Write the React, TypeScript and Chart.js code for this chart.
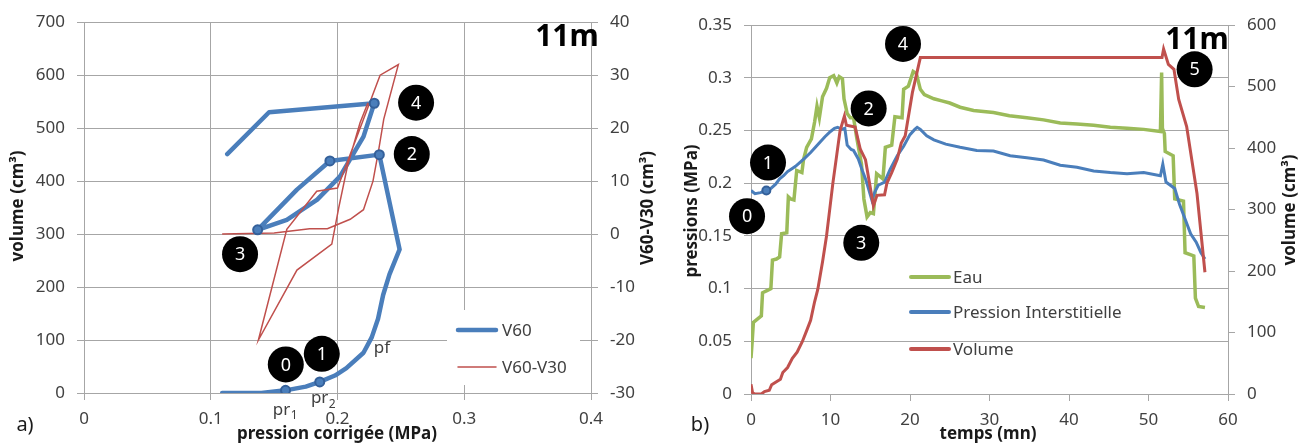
import React, { useEffect, useRef } from 'react';
import { Chart, registerables } from 'chart.js';

Chart.register(...registerables);

const FONT = "'Noto Sans', 'DejaVu Sans', sans-serif";
const BLUE = '#4a7ebb';
const RED = '#c0504d';
const GREEN = '#9bbb59';
const MARK = '#34609a';
const GRID = '#a6a6a6';
const TXT = '#404040';
const TITLE = '#1a1a1a';

// ---------------- panel a) ----------------
const xTicksA = [0, 0.1, 0.2, 0.3, 0.4];
const yTicksA = [0, 100, 200, 300, 400, 500, 600, 700];
const y2TicksA = [-30, -20, -10, 0, 10, 20, 30, 40];

const v60Pression = [0.109, 0.14, 0.159, 0.175, 0.186, 0.198, 0.207, 0.2205, 0.227, 0.232, 0.236, 0.241, 0.249, 0.233, 0.194, 0.168, 0.137, 0.16, 0.184, 0.202, 0.2205, 0.229, 0.146, 0.113];
const v60Volume = [0, 0, 5, 12, 21, 33, 47, 76, 105, 140, 185, 224, 271, 450, 438, 384, 308, 327, 365, 409, 484, 547, 530, 451];

const markPressionA = [0.159, 0.186, 0.233, 0.194, 0.137, 0.229];
const markVolumeA = [5, 21, 450, 438, 308, 547];

const diffPression = [0.109, 0.15, 0.178, 0.192, 0.21, 0.2205, 0.228, 0.2323, 0.2365, 0.248, 0.2336, 0.2, 0.1836, 0.16, 0.1376, 0.168, 0.1955, 0.201, 0.208, 0.2178, 0.224];
const diffV60V30 = [0, 0.2, 1, 1, 2.8, 4.6, 10, 15.6, 21.7, 32, 30, 8.7, 8.1, 0.9, -20, -6.8, -1.9, 5, 13, 21, 24.8];

// ---------------- panel b) ----------------
const xTicksB = [0, 10, 20, 30, 40, 50, 60];
const yTicksB = [0, 0.05, 0.1, 0.15, 0.2, 0.25, 0.3, 0.35];
const y2TicksB = [0, 100, 200, 300, 400, 500, 600];

const eauTemps = [0, 0.15, 0.3, 0.8, 1.3, 1.45, 2.0, 2.5, 2.7, 3.2, 3.6, 3.85, 4.5, 4.7, 5.0, 5.4, 5.75, 6.4, 6.6, 7.0, 7.6, 8.0, 8.3, 8.6, 9.0, 9.5, 9.9, 10.4, 10.8, 11.1, 11.5, 11.7, 12.1, 12.5, 12.9, 13.3, 13.9, 14.2, 14.6, 15.0, 15.4, 15.8, 16.6, 16.9, 17.7, 18.1, 19.0, 19.2, 19.8, 20.4, 20.8, 21.3, 21.8, 23, 24, 25, 26.3, 28, 30.5, 32.5, 34.7, 36.8, 38.9, 41, 43.1, 45.2, 47.3, 49.4, 51.5, 51.65, 51.75, 52.0, 52.1, 53.1, 53.3, 54.4, 54.6, 55.7, 55.9, 56.3, 57.1];
const eauPression = [0.034, 0.05, 0.068, 0.071, 0.074, 0.096, 0.098, 0.1, 0.127, 0.128, 0.13, 0.152, 0.153, 0.187, 0.185, 0.184, 0.212, 0.21, 0.222, 0.234, 0.242, 0.258, 0.273, 0.262, 0.282, 0.29, 0.3, 0.302, 0.295, 0.301, 0.299, 0.28, 0.266, 0.262, 0.262, 0.243, 0.218, 0.185, 0.168, 0.172, 0.171, 0.209, 0.204, 0.234, 0.236, 0.263, 0.262, 0.289, 0.292, 0.306, 0.304, 0.289, 0.284, 0.28, 0.278, 0.276, 0.272, 0.269, 0.267, 0.264, 0.262, 0.26, 0.257, 0.256, 0.255, 0.253, 0.252, 0.251, 0.249, 0.305, 0.252, 0.247, 0.23, 0.226, 0.185, 0.183, 0.134, 0.131, 0.091, 0.083, 0.082];

const piTemps = [0, 0.5, 1.2, 1.9, 2.5, 3.1, 3.6, 4.1, 4.6, 5.0, 5.6, 6.2, 6.8, 7.5, 8.1, 8.7, 9.3, 10.0, 10.5, 10.9, 11.4, 11.8, 12.1, 12.6, 12.9, 13.5, 14.0, 14.5, 15.2, 15.6, 16.0, 16.8, 17.5, 18.4, 19.2, 20.0, 20.6, 20.9, 21.3, 22.1, 23, 24.5, 26.3, 28.4, 30.5, 32.6, 34.7, 36.8, 38.9, 41, 43.1, 45.2, 47.3, 49.4, 51.5, 51.8, 52.2, 53.3, 53.9, 54.6, 55.3, 56.0, 56.6, 57.1];
const piPression = [0.193, 0.19, 0.191, 0.193, 0.195, 0.199, 0.204, 0.207, 0.211, 0.213, 0.216, 0.22, 0.224, 0.229, 0.234, 0.239, 0.244, 0.249, 0.252, 0.253, 0.251, 0.252, 0.236, 0.232, 0.231, 0.223, 0.212, 0.202, 0.184, 0.192, 0.198, 0.201, 0.213, 0.226, 0.235, 0.246, 0.251, 0.253, 0.251, 0.245, 0.241, 0.237, 0.234, 0.231, 0.2305, 0.226, 0.224, 0.222, 0.217, 0.215, 0.2115, 0.21, 0.209, 0.21, 0.207, 0.218, 0.201, 0.195, 0.18, 0.166, 0.152, 0.144, 0.134, 0.128];

const volTemps = [0, 0.2, 0.5, 1.3, 1.7, 2.3, 2.6, 3.2, 3.7, 4.0, 4.6, 5.2, 5.8, 6.45, 7.0, 7.5, 8.0, 8.4, 9.0, 9.5, 10.3, 10.8, 11.2, 11.75, 12.0, 13.1, 13.75, 14.4, 15.4, 15.85, 16.8, 17.1, 17.7, 18.4, 18.9, 19.4, 20.3, 21.3, 51.7, 51.9, 52.5, 53.2, 53.8, 54.8, 56.1, 57.1];
const volVolume = [16, 2, 0, 0, 4, 6, 15, 20, 24, 35, 43, 58, 68, 85, 103, 120, 150, 170, 215, 257, 343, 390, 428, 452, 437, 434, 398, 381, 306, 323, 324, 343, 360, 382, 408, 420, 490, 547, 547, 561, 536, 528, 479, 435, 326, 198];

const markTempsB = [1.93];
const markPressionB = [0.193];

// ---------------------------------------------
const pts = (xs: number[], ys: number[]) => xs.map((x, i) => ({ x, y: ys[i] }));

type Cfg = {
  circles: [string, number, number][];
  texts: { t: string; sub?: string; x: number; y: number; font: string; color?: string }[];
  box?: [number, number, number, number];
  legend: { label: string; color: string; width: number; x0: number; x1: number; tx: number; y: number }[];
  titles: { t: string; x: number; y: number; rot?: number; font: string }[];
};

function makeAnnot(cfg: Cfg) {
  return {
    id: 'annot',
    beforeDatasetsDraw(chart: any) {
      if (!cfg.box) return;
      const c = chart.ctx;
      c.save();
      c.fillStyle = '#fff';
      c.fillRect(cfg.box[0], cfg.box[1], cfg.box[2], cfg.box[3]);
      c.restore();
    },
    afterDraw(chart: any) {
      const c = chart.ctx;
      const sx = chart.scales.x;
      const sy = chart.scales.y;
      c.save();
      c.textAlign = 'center';
      c.textBaseline = 'middle';
      cfg.circles.forEach(([lab, x, y]) => {
        const px = sx.getPixelForValue(x);
        const py = sy.getPixelForValue(y);
        c.beginPath();
        c.arc(px, py, 18, 0, Math.PI * 2);
        c.fillStyle = '#000';
        c.fill();
        c.fillStyle = '#fff';
        c.font = `18px ${FONT}`;
        c.fillText(lab, px, py + 1);
      });
      cfg.texts.forEach((t) => {
        const px = sx.getPixelForValue(t.x);
        const py = sy.getPixelForValue(t.y);
        c.fillStyle = t.color || TXT;
        c.font = t.font;
        if (t.sub) {
          const w1 = c.measureText(t.t).width;
          c.font = `12px ${FONT}`;
          const w2 = c.measureText(t.sub).width;
          const left = px - (w1 + w2) / 2;
          c.textAlign = 'left';
          c.font = t.font;
          c.fillText(t.t, left, py);
          c.font = `12px ${FONT}`;
          c.fillText(t.sub, left + w1 + 0.5, py + 6);
          c.textAlign = 'center';
        } else {
          c.fillText(t.t, px, py);
        }
      });
      cfg.legend.forEach((it) => {
        c.strokeStyle = it.color;
        c.lineWidth = it.width;
        c.lineCap = 'round';
        c.beginPath();
        c.moveTo(it.x0, it.y);
        c.lineTo(it.x1, it.y);
        c.stroke();
        c.fillStyle = TXT;
        c.font = `17px ${FONT}`;
        c.textAlign = 'left';
        c.fillText(it.label, it.tx, it.y + 1);
        c.textAlign = 'center';
      });
      cfg.titles.forEach((t) => {
        c.save();
        c.translate(t.x, t.y);
        if (t.rot) c.rotate(t.rot);
        c.font = t.font;
        c.fillStyle = TITLE;
        c.fillText(t.t, 0, 0);
        c.restore();
      });
      c.restore();
    },
  };
}

const tickFont = { family: FONT, size: 17 };
const setTicks = (arr: number[]) => (s: any) => {
  s.ticks = arr.map((v) => ({ value: v }));
};

function axis(arr: number[], extra: any) {
  return {
    type: 'linear',
    min: arr[0],
    max: arr[arr.length - 1],
    afterBuildTicks: setTicks(arr),
    ticks: { font: tickFont, color: TXT, padding: 12, callback: (v: any) => String(v) },
    border: { display: true, color: GRID, width: 1 },
    ...extra,
  };
}

const TFONT = `bold 17px ${FONT}`;

function ChartA() {
  const ref = useRef<HTMLCanvasElement>(null);
  useEffect(() => {
    const annot = makeAnnot({
      circles: [
        ['0', 0.1592, 54],
        ['1', 0.1876, 74],
        ['2', 0.2586, 451],
        ['3', 0.1231, 262],
        ['4', 0.262, 548],
      ],
      texts: [
        { t: 'pf', x: 0.235, y: 84, font: `17px ${FONT}` },
        { t: 'pr', sub: '1', x: 0.1586, y: -32, font: `17px ${FONT}` },
        { t: 'pr', sub: '2', x: 0.1886, y: -10, font: `17px ${FONT}` },
        { t: '11m', x: 0.381, y: 672, font: `bold 30px ${FONT}`, color: '#000' },
      ],
      box: [447, 310, 133, 75],
      legend: [
        { label: 'V60', color: BLUE, width: 4.5, x0: 458, x1: 496, tx: 502, y: 330 },
        { label: 'V60-V30', color: RED, width: 1.5, x0: 458, x1: 496, tx: 502, y: 367 },
      ],
      titles: [
        { t: 'volume (cm³)', x: 18, y: 206, rot: -Math.PI / 2, font: TFONT },
        { t: 'V60-V30 (cm³)', x: 648, y: 208, rot: -Math.PI / 2, font: TFONT },
        { t: 'pression corrigée (MPa)', x: 337, y: 434, font: TFONT },
        { t: 'a)', x: 25, y: 425, font: `20px ${FONT}` },
      ],
    });
    const chart = new Chart(ref.current!, {
      type: 'scatter',
      data: {
        datasets: [
          {
            label: 'V60-V30',
            data: pts(diffPression, diffV60V30),
            yAxisID: 'y2',
            showLine: true,
            borderColor: RED,
            borderWidth: 1.5,
            pointRadius: 0,
            order: 1,
          },
          {
            label: 'points',
            data: pts(markPressionA, markVolumeA),
            yAxisID: 'y',
            showLine: false,
            pointRadius: 4.5,
            pointBackgroundColor: BLUE,
            pointBorderColor: MARK,
            pointBorderWidth: 2,
            order: 0,
          },
          {
            label: 'V60',
            data: pts(v60Pression, v60Volume),
            yAxisID: 'y',
            showLine: true,
            borderColor: BLUE,
            borderWidth: 4.5,
            borderJoinStyle: 'round',
            borderCapStyle: 'round',
            pointRadius: 0,
            order: 2,
          },
        ] as any,
      },
      options: {
        animation: false,
        responsive: false,
        layout: { padding: { top: 20, left: 0, right: 0, bottom: 0 } },
        plugins: { legend: { display: false }, tooltip: { enabled: false } },
        scales: {
          x: axis(xTicksA, {
            position: 'bottom',
            ticks: { font: tickFont, color: TXT, padding: 9, callback: (v: any) => String(v) },
            grid: { color: GRID, lineWidth: 1, tickLength: 7, tickColor: GRID, drawTicks: true },
            afterFit: (s: any) => {
              s.height = 50;
            },
          }),
          y: axis(yTicksA, {
            position: 'left',
            grid: { color: GRID, lineWidth: 1, tickLength: 7, tickColor: GRID },
            afterFit: (s: any) => {
              s.width = 84;
            },
          }),
          y2: axis(y2TicksA, {
            position: 'right',
            grid: { drawOnChartArea: false, color: GRID, tickLength: 7, tickColor: GRID },
            afterFit: (s: any) => {
              s.width = 69;
            },
          }),
        } as any,
      },
      plugins: [annot as any],
    });
    return () => chart.destroy();
  }, []);
  return <canvas ref={ref} width={660} height={443} style={{ position: 'absolute', left: 0, top: 0 }} />;
}

function ChartB() {
  const ref = useRef<HTMLCanvasElement>(null);
  useEffect(() => {
    const annot = makeAnnot({
      circles: [
        ['0', -0.5, 0.1687],
        ['1', 2.14, 0.2195],
        ['2', 14.8, 0.2709],
        ['3', 13.87, 0.1434],
        ['4', 19.12, 0.332],
        ['5', 55.8, 0.308],
      ],
      texts: [{ t: '11m', x: 56.1, y: 0.335, font: `bold 30px ${FONT}`, color: '#000' }],
      legend: [
        { label: 'Eau', color: GREEN, width: 4, x0: 251, x1: 289, tx: 293, y: 277 },
        { label: 'Pression Interstitielle', color: BLUE, width: 4, x0: 251, x1: 289, tx: 293, y: 312 },
        { label: 'Volume', color: RED, width: 4, x0: 251, x1: 289, tx: 293, y: 349 },
      ],
      titles: [
        { t: 'pressions (MPa)', x: 32, y: 211, rot: -Math.PI / 2, font: TFONT },
        { t: 'volume (cm³)', x: 630, y: 210, rot: -Math.PI / 2, font: TFONT },
        { t: 'temps (mn)', x: 328, y: 434, font: TFONT },
        { t: 'b)', x: 40, y: 425, font: `20px ${FONT}` },
      ],
    });
    const chart = new Chart(ref.current!, {
      type: 'scatter',
      data: {
        datasets: [
          {
            label: 'Volume',
            data: pts(volTemps, volVolume),
            yAxisID: 'y2',
            showLine: true,
            borderColor: RED,
            borderWidth: 3,
            pointRadius: 0,
            order: 1,
          },
          {
            label: 'point',
            data: pts(markTempsB, markPressionB),
            yAxisID: 'y',
            showLine: false,
            pointRadius: 4,
            pointBackgroundColor: BLUE,
            pointBorderColor: MARK,
            pointBorderWidth: 2,
            order: 0,
          },
          {
            label: 'Pression Interstitielle',
            data: pts(piTemps, piPression),
            yAxisID: 'y',
            showLine: true,
            borderColor: BLUE,
            borderWidth: 3,
            pointRadius: 0,
            order: 2,
          },
          {
            label: 'Eau',
            data: pts(eauTemps, eauPression),
            yAxisID: 'y',
            showLine: true,
            borderColor: GREEN,
            borderWidth: 3.5,
            pointRadius: 0,
            order: 3,
          },
        ] as any,
      },
      options: {
        animation: false,
        responsive: false,
        layout: { padding: { top: 25, left: 0, right: 0, bottom: 0 } },
        plugins: { legend: { display: false }, tooltip: { enabled: false } },
        scales: {
          x: axis(xTicksB, {
            position: 'bottom',
            ticks: { font: tickFont, color: TXT, padding: 9, callback: (v: any) => String(v) },
            grid: { drawOnChartArea: false, color: GRID, tickLength: 7, tickColor: GRID, drawTicks: true },
            afterFit: (s: any) => {
              s.height = 49;
            },
          }),
          y: axis(yTicksB, {
            position: 'left',
            grid: { color: GRID, lineWidth: 1, tickLength: 7, tickColor: GRID },
            afterFit: (s: any) => {
              s.width = 91;
            },
          }),
          y2: axis(y2TicksB, {
            position: 'right',
            grid: { drawOnChartArea: false, color: GRID, tickLength: 7, tickColor: GRID },
            afterFit: (s: any) => {
              s.width = 79;
            },
          }),
        } as any,
      },
      plugins: [annot as any],
    });
    return () => chart.destroy();
  }, []);
  return <canvas ref={ref} width={647} height={443} style={{ position: 'absolute', left: 660, top: 0 }} />;
}

export default function App() {
  return (
    <div style={{ position: 'fixed', left: 0, top: 0, width: 1307, height: 443, background: '#fff', overflow: 'hidden' }}>
      <ChartA />
      <ChartB />
    </div>
  );
}
